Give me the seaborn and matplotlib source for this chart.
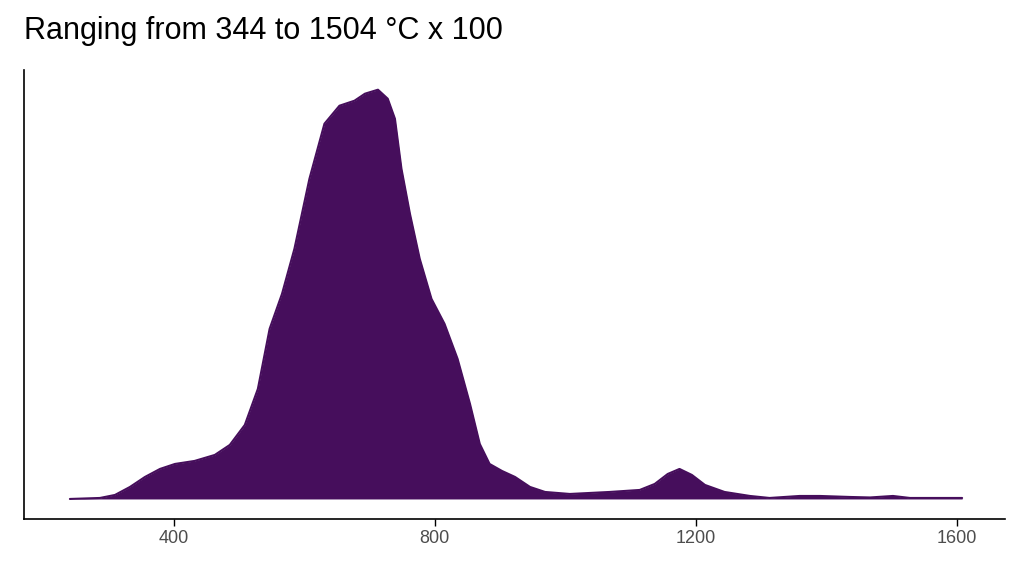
import numpy as np
import pandas as pd
import matplotlib
matplotlib.use("Agg")
import matplotlib.pyplot as plt
import seaborn as sns

# density curve (temperature in °C x 100, relative height)
temp = [241, 287, 310, 333, 356, 379, 402, 432, 463, 486, 509, 529, 547, 566,
        585, 608, 631, 654, 677, 693, 713, 728, 739, 749, 762, 777, 795, 815,
        835, 854, 869, 884, 903, 923, 946, 969, 1007, 1068, 1114, 1137, 1157,
        1175, 1194, 1214, 1244, 1283, 1313, 1359, 1390, 1436, 1467, 1502, 1528, 1608]
height = [0, 1, 4, 12, 22, 30, 35, 38, 44, 54, 74, 110, 170, 205,
          250, 320, 375, 393, 398, 405, 409, 400, 380, 330, 285, 240, 200, 175,
          140, 95, 55, 35, 28, 22, 12, 7, 5, 7, 9, 15, 25,
          30, 24, 14, 7, 3, 1, 3, 3, 2, 1.5, 3, 1, 1]
xticks = [400, 800, 1200, 1600]

df = pd.DataFrame({"temp": temp, "density": np.array(height) / 1e5})

sns.set_theme(style="white")
plt.rcParams['font.family'] = ['Liberation Sans', 'DejaVu Sans']

fig = plt.figure(figsize=(10.24, 5.76), dpi=100)
ax = fig.add_axes([0.023, 0.099, 0.958, 0.78])
col = "#460e5c"
sns.lineplot(data=df, x="temp", y="density", color=col, lw=1.5, ax=ax)
ax.fill_between(df["temp"], df["density"], color=col, lw=0)

ax.set_xlim(170, 1673)
ax.set_ylim(-20 / 1e5, 429 / 1e5)
ax.set_xticks(xticks)
ax.set_xticklabels([str(t) for t in xticks], fontsize=13, color="#4d4d4d")
ax.set_yticks([])
ax.set_xlabel("")
ax.set_ylabel("")
ax.tick_params(axis="x", length=5, width=1, color="black", bottom=True, pad=3)
for s in ["top", "right"]:
    ax.spines[s].set_visible(False)
for s in ["left", "bottom"]:
    ax.spines[s].set_color("black")
    ax.spines[s].set_linewidth(1.2)

fig.text(0.023, 0.92, "Ranging from 344 to 1504 °C x 100", fontsize=22, color="black",
         ha="left", va="bottom")
fig.savefig("out.png", dpi=100)
